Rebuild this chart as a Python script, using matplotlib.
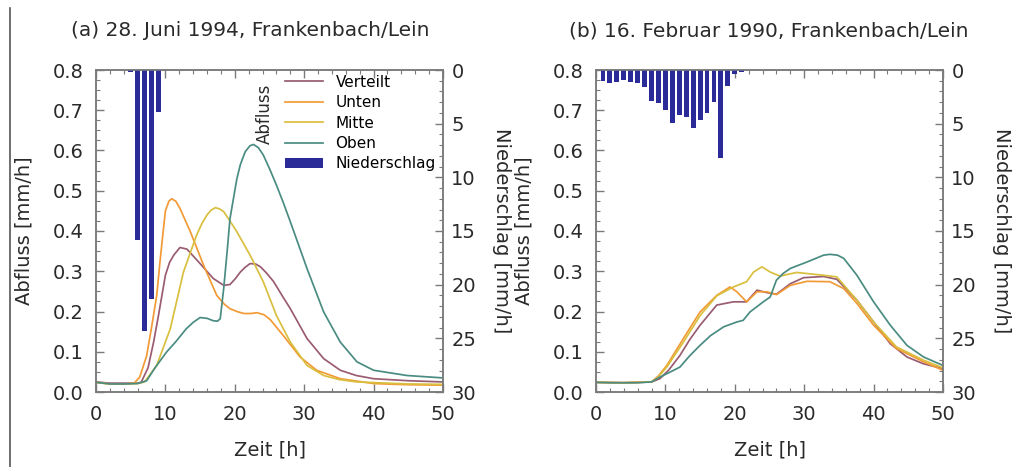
import matplotlib
matplotlib.use("Agg")
import matplotlib.pyplot as plt
from matplotlib.lines import Line2D
from matplotlib.ticker import MultipleLocator

plt.rcParams['font.family'] = ['DejaVu Sans']

# ---- (a) 28. Juni 1994 ----
a_vert_t = [0, 2, 4, 6, 6.5, 7.5, 8.3, 9, 10, 10.6, 11.2, 12.1, 13.1, 14, 15, 16.9, 18.4, 19.3, 20.1,
            20.8, 21.5, 22.2, 23, 23.7, 24.6, 25.6, 26.8, 28, 30.4, 32.8, 35.2, 37.5, 40, 45, 50]
a_vert_q = [0.025, 0.022, 0.022, 0.022, 0.024, 0.06, 0.124, 0.19, 0.29, 0.322, 0.34, 0.359, 0.355,
            0.338, 0.319, 0.282, 0.265, 0.267, 0.282, 0.298, 0.31, 0.319, 0.318, 0.311, 0.295, 0.274,
            0.24, 0.207, 0.133, 0.083, 0.054, 0.041, 0.033, 0.028, 0.025]
a_unten_t = [0, 2, 4, 5.5, 6.3, 7.3, 8, 8.75, 9.2, 9.5, 10, 10.5, 10.9, 11.5, 12.1, 13.6, 15.5, 17.4,
             18.5, 19.3, 20.3, 21.3, 22.3, 23.2, 24.2, 25.1, 27, 29.4, 31.8, 35.2, 40, 45, 50]
a_unten_q = [0.024, 0.02, 0.02, 0.022, 0.037, 0.09, 0.16, 0.24, 0.32, 0.37, 0.45, 0.474, 0.48, 0.474,
             0.456, 0.398, 0.315, 0.24, 0.218, 0.207, 0.2, 0.195, 0.195, 0.197, 0.192, 0.18, 0.14, 0.087,
             0.054, 0.033, 0.021, 0.018, 0.017]
a_mitte_t = [0, 2, 4, 6, 7, 8.75, 10.7, 12.6, 14.5, 15.3, 16, 16.6, 17.2, 17.8, 18.4, 19.3, 20.3, 22.2,
             24.1, 26, 28, 30.4, 32.8, 35, 37.6, 45, 50]
a_mitte_q = [0.024, 0.02, 0.02, 0.021, 0.025, 0.066, 0.157, 0.298, 0.39, 0.42, 0.44, 0.452, 0.458,
             0.455, 0.448, 0.425, 0.398, 0.34, 0.274, 0.19, 0.124, 0.066, 0.041, 0.031, 0.025, 0.02, 0.019]
a_oben_t = [0, 2, 4, 6, 7.3, 8.5, 10.2, 11.5, 13, 14, 15, 16, 16.9, 17.5, 17.9, 18.4, 18.9, 19.3, 20.3,
            20.8, 21.5, 22.2, 22.7, 23.4, 24.1, 25, 26, 27, 28, 30.4, 32.8, 35.2, 37.6, 40, 44.8, 50]
a_oben_q = [0.024, 0.02, 0.02, 0.021, 0.028, 0.06, 0.1, 0.125, 0.157, 0.173, 0.185, 0.183, 0.177,
            0.176, 0.182, 0.257, 0.35, 0.43, 0.53, 0.565, 0.597, 0.612, 0.615, 0.607, 0.589, 0.555,
            0.514, 0.47, 0.423, 0.307, 0.199, 0.124, 0.075, 0.054, 0.041, 0.035]
a_rain_t = [5, 6, 7, 8, 9]
a_rain = [0.2, 15.8, 24.3, 21.3, 3.9]

# ---- (b) 16. Februar 1990 ----
b_vert_t = [0, 4, 8, 9.2, 10.5, 12.1, 13.5, 15, 17.4, 19.8, 21.7, 23.2, 24.6, 26, 28, 29.9, 32.8,
            34.7, 37.6, 40, 42.4, 44.8, 47.2, 50]
b_vert_q = [0.024, 0.023, 0.025, 0.033, 0.055, 0.091, 0.13, 0.166, 0.216, 0.224, 0.224, 0.253, 0.247,
            0.243, 0.269, 0.284, 0.287, 0.28, 0.228, 0.174, 0.12, 0.087, 0.07, 0.058]
b_unten_t = [0, 4, 8, 9, 10.2, 12.6, 15, 17.4, 19.3, 20.3, 21.7, 23.2, 24.6, 26, 28, 30.4, 33.7,
             35.7, 37.6, 40, 43.3, 47.2, 50]
b_unten_q = [0.024, 0.023, 0.025, 0.04, 0.066, 0.133, 0.199, 0.24, 0.261, 0.249, 0.224, 0.249, 0.249,
             0.242, 0.265, 0.275, 0.274, 0.257, 0.22, 0.166, 0.108, 0.075, 0.054]
b_mitte_t = [0, 4, 8, 9, 10.2, 12.6, 15, 17.4, 19.8, 21.7, 22.7, 23.9, 25.1, 26.5, 28.9, 32.8, 34.7,
             37.6, 40, 43.3, 47.2, 50]
b_mitte_q = [0.024, 0.023, 0.025, 0.038, 0.062, 0.124, 0.19, 0.239, 0.261, 0.274, 0.298, 0.311, 0.298,
             0.288, 0.297, 0.29, 0.286, 0.228, 0.174, 0.112, 0.079, 0.06]
b_oben_t = [0, 2, 4, 6, 8, 9.2, 10.5, 12.1, 13.5, 15, 16.5, 18.4, 20.3, 21.2, 22.2, 24.1, 25.1, 26,
            27, 28, 30.4, 32.8, 33.7, 34.8, 35.7, 37.6, 40, 42.4, 44.8, 47.2, 50]
b_oben_q = [0.024, 0.023, 0.023, 0.023, 0.025, 0.037, 0.048, 0.062, 0.09, 0.116, 0.14, 0.162, 0.174,
            0.178, 0.199, 0.224, 0.236, 0.278, 0.295, 0.307, 0.323, 0.34, 0.342, 0.34, 0.332, 0.29,
            0.224, 0.166, 0.116, 0.087, 0.066]
b_rain_t = list(range(1, 22))
b_rain = [1.0, 1.24, 1.12, 0.93, 1.12, 1.24, 1.55, 2.92, 3.1, 3.73, 4.9, 4.2, 4.35, 5.4, 4.66, 4.04,
          2.98, 8.18, 1.46, 0.4, 0.16]

labels = ['Verteilt', 'Unten', 'Mitte', 'Oben']
colors = ['#9a5c72', '#f29a35', '#d9bf3e', '#4a8c82']
bar_color = '#2a2b98'
spine_col = '#7a7a7a'
text_col = '#2a2a2a'

panels = [
    ('(a) 28. Juni 1994, Frankenbach/Lein',
     [(a_vert_t, a_vert_q), (a_unten_t, a_unten_q), (a_mitte_t, a_mitte_q), (a_oben_t, a_oben_q)],
     a_rain_t, a_rain),
    ('(b) 16. Februar 1990, Frankenbach/Lein',
     [(b_vert_t, b_vert_q), (b_unten_t, b_unten_q), (b_mitte_t, b_mitte_q), (b_oben_t, b_oben_q)],
     b_rain_t, b_rain),
]

fig = plt.figure(figsize=(10.16, 4.67), dpi=100)
lefts = [96 / 1016, 596 / 1016]
title_x = [0.246, 0.757]

for i, (title, series, rt, rv) in enumerate(panels):
    ax = fig.add_axes([lefts[i], 75 / 467, 347 / 1016, 322 / 467])
    ax2 = ax.twinx()

    handles = []
    for (t, q), lab, c in zip(series, labels, colors):
        h, = ax.plot(t, q, color=c, lw=1.25, label=lab, solid_joinstyle='round')
        handles.append(h)
    bars = ax2.bar(rt, rv, width=0.7, color=bar_color, label='Niederschlag')

    ax.set_xlim(0, 50)
    ax.set_ylim(0, 0.8)
    ax2.set_ylim(30, 0)

    ax.xaxis.set_major_locator(MultipleLocator(10))
    ax.xaxis.set_minor_locator(MultipleLocator(2))
    ax.yaxis.set_major_locator(MultipleLocator(0.1))
    ax.yaxis.set_minor_locator(MultipleLocator(0.025))
    ax2.yaxis.set_major_locator(MultipleLocator(5))
    ax2.yaxis.set_minor_locator(MultipleLocator(1))
    ax.yaxis.set_major_formatter(plt.FormatStrFormatter('%.1f'))

    ax.tick_params(axis='x', which='both', direction='in', top=True, colors=spine_col,
                   labelcolor=text_col, labelsize=14, pad=9)
    ax.tick_params(axis='y', which='both', direction='in', right=False, colors=spine_col,
                   labelcolor=text_col, labelsize=14, pad=9)
    ax2.tick_params(axis='y', which='both', direction='in', colors=spine_col,
                    labelcolor=text_col, labelsize=14, pad=6)
    for axx in (ax, ax2):
        axx.tick_params(which='major', length=6, width=1)
        axx.tick_params(which='minor', length=3, width=0.8)
        for s in axx.spines.values():
            s.set_color(spine_col)
            s.set_linewidth(1.1)

    ax.set_xlabel('Zeit [h]', fontsize=14, color=text_col)
    ax.xaxis.set_label_coords(0.5, -0.15)
    ax.set_ylabel('Abfluss [mm/h]', fontsize=14, color=text_col)
    ax.yaxis.set_label_coords(-0.18, 0.5)
    ax2.set_ylabel('Niederschlag [mm/h]', fontsize=14, color=text_col, rotation=270,
                   va='center', ha='center')
    ax2.yaxis.set_label_coords(1.168, 0.5)

    fig.text(title_x[i], 0.934, title, fontsize=14.5, color=text_col, ha='center', va='center')

    if i == 0:
        ax.text(24.4, 0.69, 'Abfluss', rotation=90, fontsize=12, color=text_col,
                ha='center', va='center')
        ax2.legend(handles + [bars], labels + ['Niederschlag'], loc='upper left',
                   bbox_to_anchor=(0.545, 0.985), frameon=False, fontsize=11,
                   handlelength=2.5, handletextpad=0.8, labelspacing=0.35, borderpad=0,
                   borderaxespad=0)

fig.add_artist(Line2D([10 / 1016, 10 / 1016], [0, 1 - 8 / 467], transform=fig.transFigure,
                      color='#555555', lw=1.2))

fig.savefig('out.png', dpi=100)
